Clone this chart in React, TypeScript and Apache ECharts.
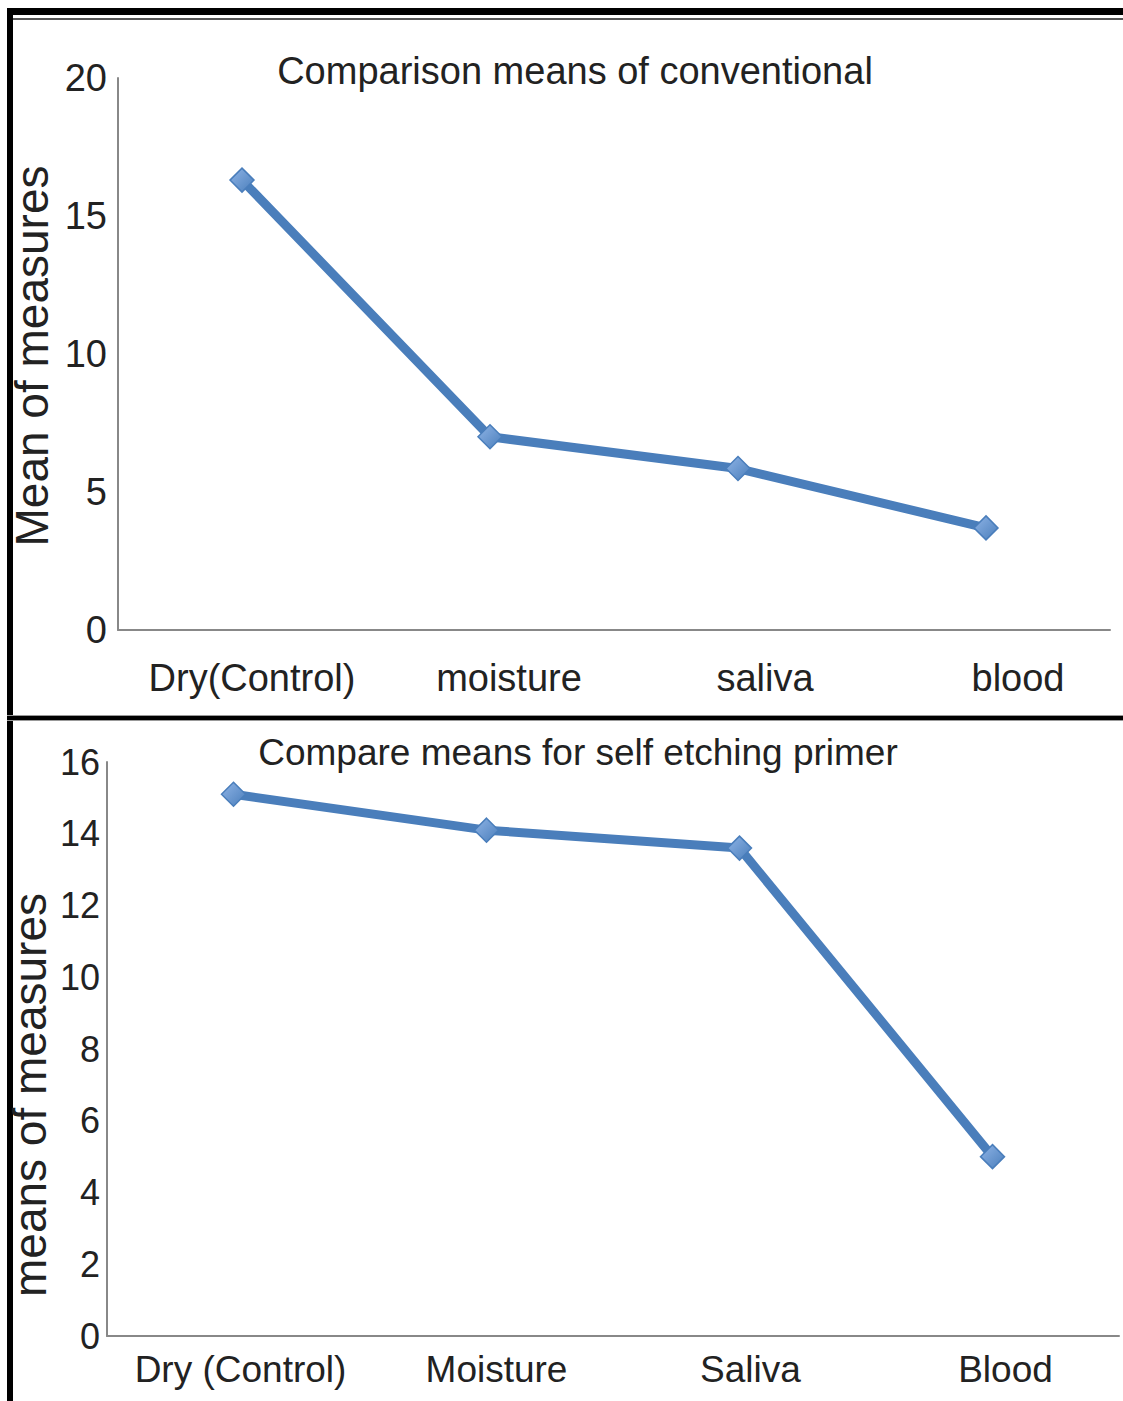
import React, { useEffect, useRef } from "react";
import * as echarts from "echarts";

const topTitle = "Comparison means of conventional";
const topCategories = ["Dry(Control)", "moisture", "saliva", "blood"];
const topValues = [16.3, 7.0, 5.85, 3.7];
const topYName = "Mean of measures";

const bottomTitle = "Compare means for self etching primer";
const bottomCategories = ["Dry (Control)", "Moisture", "Saliva", "Blood"];
const bottomValues = [15.1, 14.1, 13.6, 5.0];
const bottomYName = "means of measures";

const FONT = "'Liberation Sans', Arial, sans-serif";
const TEXT = "#222222";
const LINE = "#4a7ebb";

const topLabelShift = [20, 38, 54, 64];
const bottomLabelShift = [14, 20, 22, 26];

function richFor(shifts: number[], size: number) {
  const rich: Record<string, any> = {};
  shifts.forEach((s, i) => {
    rich["a" + i] = { padding: [0, 0, 0, s], fontSize: size, fontFamily: FONT, color: TEXT, lineHeight: size };
  });
  return rich;
}

export default function App() {
  const ref = useRef<HTMLDivElement>(null);
  useEffect(() => {
    document.body.style.margin = "0";
    const chart = echarts.init(ref.current!, null, { renderer: "svg" });
    const lineSeries = (data: number[], idx: number) => ({
      type: "line",
      xAxisIndex: idx,
      yAxisIndex: idx,
      data,
      symbol: "diamond",
      symbolSize: 24,
      lineStyle: { color: LINE, width: 9 },
      itemStyle: {
        color: new echarts.graphic.LinearGradient(0, 0, 1, 1, [
          { offset: 0, color: "#8fb4e6" },
          { offset: 1, color: "#4a7ebb" },
        ]),
        borderColor: "#4a7ebb",
        borderWidth: 1.5,
      },
    });
    chart.setOption({
      animation: false,
      backgroundColor: "#ffffff",
      textStyle: { fontFamily: FONT },
      title: [
        {
          text: topTitle,
          left: 570,
          top: 47,
          textAlign: "center",
          textStyle: { fontFamily: FONT, fontSize: 38, fontWeight: "normal", color: TEXT },
        },
        {
          text: bottomTitle,
          left: 573,
          top: 729,
          textAlign: "center",
          textStyle: { fontFamily: FONT, fontSize: 37, fontWeight: "normal", color: TEXT },
        },
      ],
      grid: [
        { left: 118, top: 78, width: 992, height: 552, outerBoundsMode: "none", containLabel: false },
        { left: 107, top: 762, width: 1012, height: 574, outerBoundsMode: "none", containLabel: false },
      ],
      xAxis: [
        {
          type: "category",
          gridIndex: 0,
          data: topCategories,
          boundaryGap: true,
          axisLine: { lineStyle: { color: "#888", width: 2 } },
          axisTick: { show: false },
          axisLabel: {
            interval: 0,
            color: TEXT,
            fontSize: 38,
            fontFamily: FONT,
            margin: 29,
            lineHeight: 38,
            formatter: (v: string, i: number) => `{a${i}|${v}}`,
            rich: richFor(topLabelShift, 38),
          },
        },
        {
          type: "category",
          gridIndex: 1,
          data: bottomCategories,
          boundaryGap: true,
          axisLine: { lineStyle: { color: "#888", width: 2 } },
          axisTick: { show: false },
          axisLabel: {
            interval: 0,
            color: TEXT,
            fontSize: 37,
            fontFamily: FONT,
            margin: 15,
            lineHeight: 37,
            formatter: (v: string, i: number) => `{a${i}|${v}}`,
            rich: richFor(bottomLabelShift, 37),
          },
        },
      ],
      yAxis: [
        {
          type: "value",
          gridIndex: 0,
          min: 0,
          max: 20,
          interval: 5,
          axisLine: { show: true, lineStyle: { color: "#888", width: 2 } },
          axisTick: { show: false },
          splitLine: { show: false },
          axisLabel: { color: TEXT, fontSize: 38, fontFamily: FONT, margin: 11 },
        },
        {
          type: "value",
          gridIndex: 1,
          min: 0,
          max: 16,
          interval: 2,
          axisLine: { show: true, lineStyle: { color: "#888", width: 2 } },
          axisTick: { show: false },
          splitLine: { show: false },
          axisLabel: { color: TEXT, fontSize: 36, fontFamily: FONT, margin: 7 },
        },
      ],
      series: [lineSeries(topValues, 0), lineSeries(bottomValues, 1)],
      graphic: [
        { type: "rect", shape: { x: 7, y: 8, width: 1116, height: 7 }, style: { fill: "#000" } },
        { type: "rect", shape: { x: 13, y: 18, width: 1110, height: 2 }, style: { fill: "#555" } },
        { type: "rect", shape: { x: 7, y: 8, width: 6, height: 1393 }, style: { fill: "#000" } },
        { type: "rect", shape: { x: 7, y: 715, width: 1116, height: 6 }, style: { fill: "#999" } },
        { type: "rect", shape: { x: 7, y: 716, width: 1116, height: 4 }, style: { fill: "#000" } },
        {
          type: "text",
          x: 32,
          y: 356,
          rotation: Math.PI / 2,
          style: {
            text: topYName,
            fontSize: 46,
            fontFamily: FONT,
            fill: TEXT,
            align: "center",
            verticalAlign: "middle",
          },
        },
        {
          type: "text",
          x: 30,
          y: 1095,
          rotation: Math.PI / 2,
          style: {
            text: bottomYName,
            fontSize: 46,
            fontFamily: FONT,
            fill: TEXT,
            align: "center",
            verticalAlign: "middle",
          },
        },
      ],
    });
    return () => chart.dispose();
  }, []);
  return <div ref={ref} style={{ width: 1123, height: 1401 }} />;
}
